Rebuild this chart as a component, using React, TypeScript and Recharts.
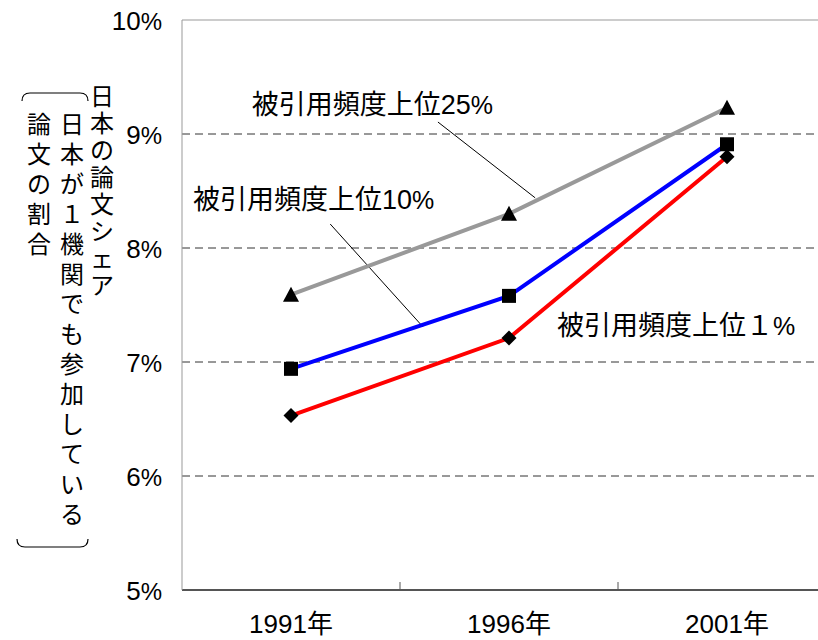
import React from 'react'
import {
  LineChart,
  Line,
  XAxis,
  YAxis,
  CartesianGrid,
  ReferenceLine,
  ReferenceDot,
  Customized,
} from 'recharts'

// data (share of Japanese papers, %)
const years = [1991, 1996, 2001]
const top25 = [7.59, 8.3, 9.23]
const top10 = [6.94, 7.58, 8.91]
const top1 = [6.53, 7.21, 8.8]
const yTicks = [5, 6, 7, 8, 9, 10]
const gridValues = [6, 7, 8, 9]

const seriesNames = ['被引用頻度上位25', '被引用頻度上位10', '被引用頻度上位１']

const titleMain = '日本の論文シェア'
const titleSub1 = '日本が１機関でも参加している'
const titleSub2 = '論文の割合'

const data = years.map((year, i) => ({
  year,
  top25: top25[i],
  top10: top10[i],
  top1: top1[i],
}))

const halfStep = (years[1] - years[0]) / 2
const xDomain = [years[0] - halfStep, years[years.length - 1] + halfStep]
const bandEdges = years.slice(1).map((y) => y - halfStep)

// label anchors in data units
const labelPos = [
  { x: 1990.1, y: 9.175 },
  { x: 1988.75, y: 8.34 },
  { x: 1997.1, y: 7.237 },
]
const leaders = [
  [{ x: 1994.37, y: 9.105 }, { x: 1996.6, y: 8.44 }],
  [{ x: 1991.9, y: 8.21 }, { x: 1994.03, y: 7.307 }],
]

const FONT = "'Liberation Sans', 'Noto Sans CJK JP', sans-serif"
const NARROW = "'Liberation Sans Narrow', 'Liberation Sans', sans-serif"

const Triangle = (props: any) => {
  const { cx, cy, key } = props
  return <polygon key={key} points={`${cx},${cy - 8} ${cx - 8},${cy + 7} ${cx + 8},${cy + 7}`} fill="#000" />
}
const Square = (props: any) => {
  const { cx, cy, key } = props
  return <rect key={key} x={cx - 7} y={cy - 7} width={14} height={14} fill="#000" />
}
const Diamond = (props: any) => {
  const { cx, cy, key } = props
  return <polygon key={key} points={`${cx},${cy - 7.5} ${cx + 7.5},${cy} ${cx},${cy + 7.5} ${cx - 7.5},${cy}`} fill="#000" />
}

const XTick = (props: any) => {
  const { x, y, payload } = props
  return (
    <text x={x} y={y + 43} textAnchor="middle" fontSize={26} fontFamily={FONT} fill="#000">
      {`${payload.value}年`}
    </text>
  )
}

const YTick = (props: any) => {
  const { x, y, payload } = props
  return (
    <text x={x} y={y + 10} textAnchor="end" fontSize={26} fontFamily={FONT} fill="#000">
      {payload.value}
      <tspan fontFamily={NARROW} fontSize={24}>%</tspan>
    </text>
  )
}

const AnnoLabel = (props: any) => {
  const { viewBox, text } = props
  return (
    <text x={viewBox.x} y={viewBox.y} fontSize={27} fontFamily={FONT} fill="#000">
      {text}
      <tspan fontFamily={NARROW} fontSize={25}>%</tspan>
    </text>
  )
}

const column = (str: string, x: number, top: number, step: number) =>
  Array.from(str).map((ch, i) => (
    <text
      key={`${x}-${i}`}
      x={x}
      y={top + step / 2 + i * step}
      textAnchor="middle"
      dominantBaseline="central"
      fontSize={24}
      fontFamily={FONT}
      fill="#000"
    >
      {ch}
    </text>
  ))

const YTitle = () => (
  <g>
    {column(titleMain, 102, 83, 27)}
    {column(titleSub1, 72, 109, 30)}
    {column(titleSub2, 39, 109, 30)}
    <path d="M 22 101 Q 22 93 30 93 L 80 93 Q 88 93 88 101" fill="none" stroke="#000" strokeWidth={1.2} />
    <path d="M 17 539 Q 17 547 25 547 L 80 547 Q 88 547 88 539" fill="none" stroke="#000" strokeWidth={1.2} />
  </g>
)

export default function App() {
  return (
    <div style={{ position: 'absolute', left: 0, top: 0, width: 818, height: 640, overflow: 'hidden', background: '#fff' }}>
      <LineChart width={850} height={640} data={data} margin={{ top: 20, right: 14, bottom: 0, left: 0 }}>
        <CartesianGrid horizontal vertical={false} horizontalValues={gridValues} stroke="#333" strokeDasharray="8 5" />
        <XAxis
          dataKey="year"
          type="number"
          domain={xDomain}
          ticks={years}
          axisLine={{ stroke: '#555', strokeWidth: 2 }}
          tickLine={false}
          tickSize={0}
          tickMargin={0}
          height={50}
          tick={<XTick />}
        />
        <YAxis
          type="number"
          domain={[5, 10]}
          ticks={yTicks}
          axisLine={{ stroke: '#999' }}
          tickLine={false}
          tickSize={0}
          tickMargin={20}
          width={182}
          tick={<YTick />}
        />
        <ReferenceLine y={10} stroke="#999" />
        {bandEdges.map((e) => (
          <ReferenceLine key={e} segment={[{ x: e, y: 5 }, { x: e, y: 5.07 }]} stroke="#555" />
        ))}
        {leaders.map((seg, i) => (
          <ReferenceLine key={`l${i}`} segment={seg} stroke="#000" strokeWidth={1} />
        ))}
        <Line dataKey="top25" stroke="#999" strokeWidth={4} dot={Triangle} isAnimationActive={false} />
        <Line dataKey="top10" stroke="#0000FF" strokeWidth={4} dot={Square} isAnimationActive={false} />
        <Line dataKey="top1" stroke="#FF0000" strokeWidth={4} dot={Diamond} isAnimationActive={false} />
        {labelPos.map((p, i) => (
          <ReferenceDot key={`t${i}`} x={p.x} y={p.y} r={0} fill="none" stroke="none" label={<AnnoLabel text={seriesNames[i]} />} />
        ))}
        <Customized component={YTitle} />
      </LineChart>
    </div>
  )
}
